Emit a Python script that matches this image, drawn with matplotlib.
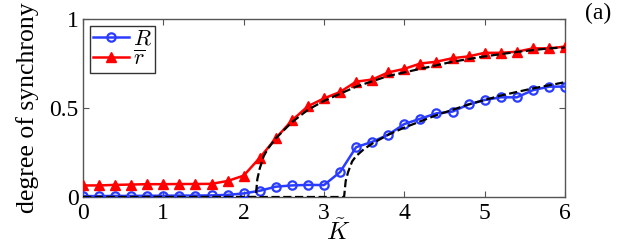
import matplotlib
matplotlib.use("Agg")
import matplotlib.pyplot as plt
import numpy as np

# coupling strength K (simulation points)
k_sim = np.arange(0, 6.01, 0.2)

# global order parameter R
R_vals = [0.005, 0.005, 0.006, 0.006, 0.007, 0.007, 0.008, 0.008, 0.009, 0.012,
          0.02, 0.035, 0.058, 0.065, 0.068, 0.067, 0.14, 0.28, 0.31, 0.35,
          0.41, 0.44, 0.47, 0.48, 0.52, 0.545, 0.56, 0.56, 0.60, 0.62, 0.62]

# mean local order parameter r-bar
r_vals = [0.065, 0.065, 0.068, 0.07, 0.072, 0.072, 0.073, 0.073, 0.074, 0.09,
          0.12, 0.22, 0.33, 0.43, 0.51, 0.554, 0.59, 0.648, 0.66, 0.70,
          0.72, 0.75, 0.76, 0.78, 0.79, 0.81, 0.81, 0.816, 0.835, 0.835, 0.845]

# theory curves (dashed)
k_th_r = [0.0, 2.15, 2.17, 2.2, 2.25, 2.3, 2.4, 2.6, 2.8, 3.0, 3.4, 3.8, 4.2, 4.6, 5.0, 5.4, 5.8, 6.0]
r_th = [0.0, 0.0, 0.1, 0.16, 0.23, 0.27, 0.33, 0.42, 0.49, 0.54, 0.62, 0.68, 0.72, 0.76, 0.79, 0.815, 0.835, 0.84]

k_th_R = [0.0, 3.25, 3.27, 3.3, 3.35, 3.4, 3.5, 3.6, 3.8, 4.0, 4.4, 4.8, 5.2, 5.6, 6.0]
R_th = [0.0, 0.0, 0.09, 0.14, 0.2, 0.23, 0.27, 0.30, 0.35, 0.39, 0.46, 0.52, 0.57, 0.61, 0.645]

plt.rcParams['font.family'] = 'serif'
plt.rcParams['font.serif'] = ['Liberation Serif', 'DejaVu Serif']
plt.rcParams['mathtext.fontset'] = 'cm'

fig = plt.figure(figsize=(6.23, 2.5), dpi=100)
ax = fig.add_axes([83 / 623, 53 / 250, 482 / 623, 178 / 250])

blue = "#2a3cff"
red = "#ff0000"

ax.plot(k_sim, R_vals, '-o', color=blue, lw=1.8, ms=6, mfc='none', mew=1.6, label=r'$R$', zorder=3)
ax.plot(k_sim, r_vals, '-^', color=red, lw=1.8, ms=7.5, mfc=red, mec=red, label=r'$\overline{r}$', zorder=3)
ax.plot(k_th_r, r_th, '--', color='black', lw=1.6, zorder=4)
ax.plot(k_th_R, R_th, '--', color='black', lw=1.6, zorder=4)

ax.set_xlim(0, 6)
ax.set_ylim(0, 1)
ax.set_xticks([0, 1, 2, 3, 4, 5, 6])
ax.set_yticks([0, 0.5, 1])
ax.set_yticklabels(['0', '0.5', '1'])
ax.tick_params(direction='in', top=True, right=True, labelsize=17, length=4, color='#555555')
ax.tick_params(axis='x', pad=4.5)
ax.tick_params(axis='y', pad=3)
for s in ax.spines.values():
    s.set_color('#555555')
    s.set_linewidth(1.0)

ax.set_ylabel('degree of synchrony', fontsize=18.5)
ax.yaxis.set_label_coords(-0.092, 0.5)
ax.set_xlabel(r'$\tilde{K}$', fontsize=18)
ax.xaxis.label.set_va('top')
ax.xaxis.set_label_coords(0.529, -0.125)

leg = ax.legend(loc='upper left', fontsize=16, handlelength=1.6, handletextpad=0.2,
                labelspacing=0.0, borderpad=0.15, borderaxespad=0.3, fancybox=False)
leg.get_frame().set_edgecolor('#333333')
leg.get_frame().set_linewidth(1.0)
leg.get_frame().set_alpha(1)

fig.text(598 / 623, 1 - 13 / 250, '(a)', fontsize=17, ha='center', va='center')

fig.savefig('out.png', dpi=100)
